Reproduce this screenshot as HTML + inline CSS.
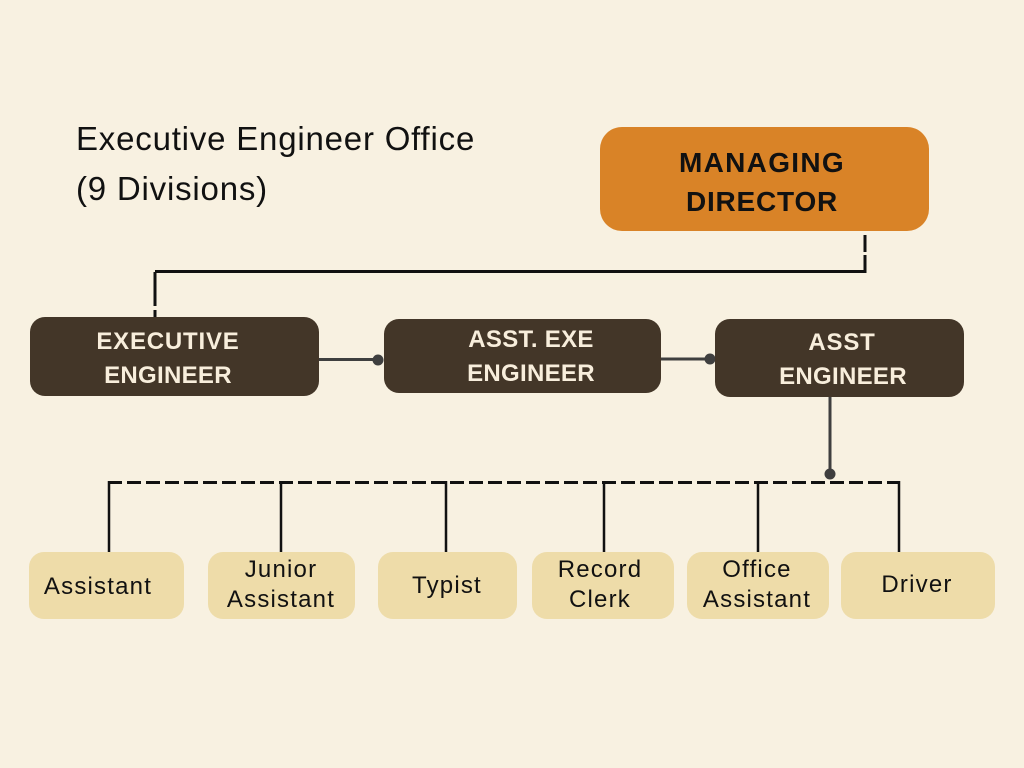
<!DOCTYPE html>
<html>
<head>
<meta charset="utf-8">
<style>
html,body{margin:0;padding:0;background:#F8F1E1;}
svg{display:block;}
</style>
</head>
<body>
<svg width="1024" height="768" viewBox="0 0 1024 768" xmlns="http://www.w3.org/2000/svg">
  <rect width="1024" height="768" fill="#F8F1E1"/>

  <!-- Title -->
  <text x="76" y="150" font-family="Liberation Sans, Arial, sans-serif" font-size="33" letter-spacing="0.8" fill="#111">Executive Engineer Office</text>
  <text x="76" y="200" font-family="Liberation Sans, Arial, sans-serif" font-size="33" letter-spacing="0.8" fill="#111">(9 Divisions)</text>

  <!-- Managing Director -->
  <rect x="600" y="127" width="329" height="104" rx="22" fill="#D98327"/>
  <text x="762" y="172" text-anchor="middle" font-family="Liberation Sans, Arial, sans-serif" font-weight="bold" font-size="28" letter-spacing="1.3" fill="#111">MANAGING</text>
  <text x="762" y="211" text-anchor="middle" font-family="Liberation Sans, Arial, sans-serif" font-weight="bold" font-size="28" letter-spacing="0.8" fill="#111">DIRECTOR</text>

  <!-- MD connector -->
  <line x1="865" y1="235" x2="865" y2="272" stroke="#111" stroke-width="3" stroke-dasharray="17 3"/>
  <line x1="155" y1="271.5" x2="866.5" y2="271.5" stroke="#111" stroke-width="3"/>
  <line x1="155" y1="272" x2="155" y2="317" stroke="#111" stroke-width="3" stroke-dasharray="34 4 8 3"/>

  <!-- Executive Engineer -->
  <rect x="30" y="317" width="289" height="79" rx="15" fill="#433628"/>
  <text x="168" y="349" text-anchor="middle" font-family="Liberation Sans, Arial, sans-serif" font-weight="bold" font-size="24" letter-spacing="0.8" fill="#F8EEDC">EXECUTIVE</text>
  <text x="168" y="383" text-anchor="middle" font-family="Liberation Sans, Arial, sans-serif" font-weight="bold" font-size="24" letter-spacing="0.3" fill="#F8EEDC">ENGINEER</text>

  <!-- connector exec -> asst exe -->
  <line x1="319" y1="359.5" x2="378" y2="359.5" stroke="#3f3f3f" stroke-width="3"/>
  <circle cx="378" cy="360" r="5.5" fill="#3f3f3f"/>

  <!-- Asst Exe Engineer -->
  <rect x="384" y="319" width="277" height="74" rx="15" fill="#433628"/>
  <text x="531" y="347" text-anchor="middle" font-family="Liberation Sans, Arial, sans-serif" font-weight="bold" font-size="24" letter-spacing="0.3" fill="#F8EEDC">ASST. EXE</text>
  <text x="531" y="381" text-anchor="middle" font-family="Liberation Sans, Arial, sans-serif" font-weight="bold" font-size="24" letter-spacing="0.3" fill="#F8EEDC">ENGINEER</text>

  <!-- connector asst exe -> asst eng -->
  <line x1="661" y1="359" x2="710" y2="359" stroke="#3f3f3f" stroke-width="3"/>
  <circle cx="710" cy="359" r="5.5" fill="#3f3f3f"/>

  <!-- Asst Engineer -->
  <rect x="715" y="319" width="249" height="78" rx="15" fill="#433628"/>
  <text x="842" y="350" text-anchor="middle" font-family="Liberation Sans, Arial, sans-serif" font-weight="bold" font-size="24" letter-spacing="0.8" fill="#F8EEDC">ASST</text>
  <text x="843" y="384" text-anchor="middle" font-family="Liberation Sans, Arial, sans-serif" font-weight="bold" font-size="24" letter-spacing="0.3" fill="#F8EEDC">ENGINEER</text>

  <!-- Asst eng down connector -->
  <line x1="830" y1="397" x2="830" y2="474" stroke="#3f3f3f" stroke-width="3"/>
  <circle cx="830" cy="474" r="5.5" fill="#3f3f3f"/>

  <!-- dashed bus -->
  <line x1="108" y1="482.5" x2="900" y2="482.5" stroke="#111" stroke-width="3" stroke-dasharray="14 5"/>
  <g stroke="#111" stroke-width="2.5">
    <line x1="109" y1="481" x2="109" y2="552"/>
    <line x1="281" y1="481" x2="281" y2="552"/>
    <line x1="446" y1="481" x2="446" y2="552"/>
    <line x1="604" y1="481" x2="604" y2="552"/>
    <line x1="758" y1="481" x2="758" y2="552"/>
    <line x1="899" y1="481" x2="899" y2="552"/>
  </g>

  <!-- bottom boxes -->
  <g fill="#EEDCA9">
    <rect x="29" y="552" width="155" height="67" rx="15"/>
    <rect x="208" y="552" width="147" height="67" rx="15"/>
    <rect x="378" y="552" width="139" height="67" rx="15"/>
    <rect x="532" y="552" width="142" height="67" rx="15"/>
    <rect x="687" y="552" width="142" height="67" rx="15"/>
    <rect x="841" y="552" width="154" height="67" rx="15"/>
  </g>
  <g font-family="Liberation Sans, Arial, sans-serif" font-size="24" letter-spacing="1.2" fill="#111" text-anchor="middle">
    <text x="98" y="594">Assistant</text>
    <text x="281" y="577">Junior</text>
    <text x="281" y="607">Assistant</text>
    <text x="447" y="593">Typist</text>
    <text x="600" y="577">Record</text>
    <text x="600" y="607">Clerk</text>
    <text x="757" y="577">Office</text>
    <text x="757" y="607">Assistant</text>
    <text x="917" y="592">Driver</text>
  </g>
</svg>
</body>
</html>
